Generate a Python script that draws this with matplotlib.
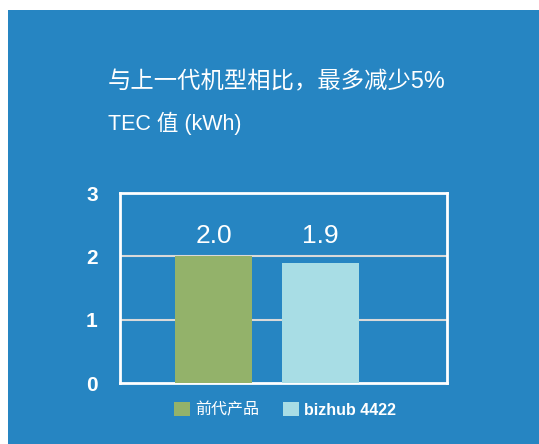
import matplotlib
matplotlib.use("Agg")
import matplotlib.pyplot as plt
from matplotlib.patches import Rectangle

plt.rcParams["font.family"] = ["Liberation Sans", "Noto Sans CJK SC", "DejaVu Sans"]

# data
categories = ["前代产品", "bizhub 4422"]
tec_values = [2.0, 1.9]
bar_colors = ["#93B26A", "#A8DDE5"]
y_ticks = [0, 1, 2, 3]
title_line1 = "与上一代机型相比，最多减少5%"
title_line2 = "TEC 值 (kWh)"

BG = "#2685C2"
W, H = 539, 444

fig = plt.figure(figsize=(W / 100, H / 100), dpi=100, facecolor="white")

# blue panel (leaves a thin white margin on top / left like the source)
fig.patches.append(
    Rectangle((8 / W, 0), 1 - 8 / W, 1 - 10 / H, transform=fig.transFigure,
              facecolor=BG, edgecolor="none", zorder=-5)
)

fig.text(108 / W, 1 - 82 / H, title_line1, color="white", fontsize=16.8,
         ha="left", va="center")
fig.text(108 / W, 1 - 123 / H, title_line2, color="white", fontsize=15.5,
         ha="left", va="center")

ax = fig.add_axes([120 / W, 61 / H, 327 / W, 190 / H])
ax.set_facecolor(BG)

x = list(range(len(categories)))
bars = list(ax.bar(x, tec_values, width=0.72, color=bar_colors, zorder=3))

for xi, v in zip(x, tec_values):
    ax.annotate(f"{v:.1f}", (xi, 2.0), xytext=(0, 6), textcoords="offset points",
                ha="center", va="bottom", color="white", fontsize=19)

ax.set_xlim(-0.874, 2.18)
ax.set_ylim(0, 3)
ax.set_yticks(y_ticks)
ax.set_xticks([])
ax.tick_params(axis="y", length=0, pad=16, labelsize=15, labelcolor="white")
for lbl in ax.get_yticklabels():
    lbl.set_fontweight("bold")

for yv in y_ticks[1:-1]:
    ax.axhline(yv, color="#D9D9D9", lw=1.5, zorder=1)

for sp in ax.spines.values():
    sp.set_color("white")
    sp.set_linewidth(2)

leg = fig.legend(bars, categories, loc="center left",
                 bbox_to_anchor=(174 / W, 34 / H), ncol=2, frameon=False,
                 fontsize=11.5, handlelength=1.0, handleheight=1.0,
                 handletextpad=0.35, columnspacing=1.45, borderpad=0,
                 borderaxespad=0)
for t in leg.get_texts():
    t.set_color("white")
leg.get_texts()[1].set_fontweight("bold")

fig.savefig("out.png", dpi=100, facecolor=fig.get_facecolor())
